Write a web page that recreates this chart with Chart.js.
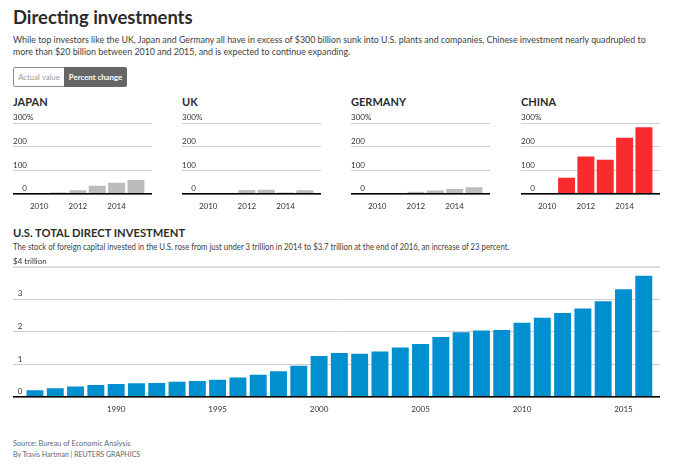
<!DOCTYPE html>
<html>
<head>
<meta charset="utf-8">
<title>Directing investments</title>
<script src="https://cdn.jsdelivr.net/npm/chart.js@4/dist/chart.umd.min.js"></script>
<style>
    html, body { margin: 0; padding: 0; background: #fff; overflow: hidden; }
    body { width: 700px; height: 465px; position: relative; font-family: Lato, sans-serif; color: #333; }
    .txt { position: absolute; white-space: nowrap; left: 13px; transform-origin: left top; }
    .title { top: 5px; font-size: 18.4px; line-height: 24px; font-weight: 700; color: #2b2b2b; }
    .intro { top: 32.6px; font-size: 10px; line-height: 12.8px; color: #404040; transform: scaleX(.885); }
    .country { top: 94px; font-size: 11px; line-height: 16px; font-weight: 700; color: #2b2b2b; }
    .head2 { top: 225px; font-size: 11.2px; line-height: 16px; font-weight: 700; color: #2b2b2b; }
    .sub { top: 240.5px; font-size: 8.6px; line-height: 13px; color: #404040; transform: scaleX(.904); }
    .foot { font-size: 7.3px; line-height: 11px; color: #666; }
    .toggle { position: absolute; left: 13px; top: 67px; width: 114px; height: 20px; border-radius: 2px; overflow: hidden; font-size: 7.8px; }
    .toggle span { position: absolute; top: 0; height: 18px; line-height: 18px; text-align: center; }
    .toggle .off { left: 0; width: 50px; border: 1px solid #8c8c8c; border-right: 0; color: #999; border-radius: 2px 0 0 2px; }
    .toggle .on { left: 51px; width: 63px; height: 20px; line-height: 20px; background: #666; color: #fff; font-weight: 700; }
    canvas { position: absolute; }
</style>
</head>
<body>
    <div class="txt title">Directing investments</div>
    <div class="txt intro">While top investors like the UK, Japan and Germany all have in excess of $300 billion sunk into U.S. plants and companies, Chinese investment nearly quadrupled to<br>more than $20 billion between 2010 and 2015, and is expected to continue expanding.</div>
    <div class="toggle"><span class="off">Actual value</span><span class="on">Percent change</span></div>

    <div class="txt country" style="left:13px">JAPAN</div>
    <div class="txt country" style="left:182px">UK</div>
    <div class="txt country" style="left:351px">GERMANY</div>
    <div class="txt country" style="left:521px">CHINA</div>

    <canvas id="japanChart" style="left:13px;top:108px;width:139px;height:107px"></canvas>
    <canvas id="ukChart" style="left:182px;top:108px;width:139px;height:107px"></canvas>
    <canvas id="germanyChart" style="left:351px;top:108px;width:139px;height:107px"></canvas>
    <canvas id="chinaChart" style="left:521px;top:108px;width:139px;height:107px"></canvas>

    <div class="txt head2">U.S. TOTAL DIRECT INVESTMENT</div>
    <div class="txt sub">The stock of foreign capital invested in the U.S. rose from just under 3 trillion in 2014 to $3.7 trillion at the end of 2016, an increase of 23 percent.</div>

    <canvas id="totalChart" style="left:13px;top:250px;width:647px;height:175px"></canvas>

    <div class="txt foot" style="top:437.5px">Source: Bureau of Economic Analysis</div>
    <div class="txt foot" style="top:448.5px;transform:scaleX(.96)">By Travis Hartman | REUTERS GRAPHICS</div>

<script>
const countryYears = [2010, 2011, 2012, 2013, 2014, 2015];
const japanChange = [0, 5, 14, 34, 46, 58];
const ukChange = [0, 3, 16, 17, 5, 14];
const germanyChange = [0, 1, 8, 13, 20, 27];
const chinaChange = [0, 68, 158, 144, 237, 282];
const countryYearTicks = [2010, 2012, 2014];
const changeTicks = [0, 100, 200, 300];
const changeTickLabels = ['\u2007\u20070', '100', '200', '300%'];

const totalYears = [1986, 1987, 1988, 1989, 1990, 1991, 1992, 1993, 1994, 1995, 1996,
    1997, 1998, 1999, 2000, 2001, 2002, 2003, 2004, 2005, 2006,
    2007, 2008, 2009, 2010, 2011, 2012, 2013, 2014, 2015, 2016];
const totalInvestment = [0.20, 0.255, 0.31, 0.36, 0.39, 0.41, 0.42, 0.46, 0.48, 0.52, 0.59,
    0.67, 0.78, 0.95, 1.25, 1.34, 1.32, 1.39, 1.51, 1.62, 1.83,
    1.98, 2.03, 2.05, 2.27, 2.42, 2.57, 2.71, 2.93, 3.30, 3.71];
const totalYearTicks = [1990, 1995, 2000, 2005, 2010, 2015];
const totalTicks = [0, 1, 2, 3, 4];
const totalTickLabels = ['\u20070', '\u20071', '\u20072', '\u20073', '$4 trillion'];

Chart.defaults.font.family = 'Lato, sans-serif';
Chart.defaults.animation = false;
Chart.defaults.responsive = false;

// 小图和大图共用一个配置
function drawBars(id, years, values, color, opts) {
    const canvas = document.getElementById(id);
    canvas.width = parseInt(canvas.style.width);
    canvas.height = parseInt(canvas.style.height);
    const yMax = opts.yTicks[opts.yTicks.length - 1];
    return new Chart(canvas, {
        type: 'bar',
        data: {
            labels: years,
            datasets: [{ data: values, backgroundColor: color, barThickness: 16.3 }]
        },
        options: {
            devicePixelRatio: 1,
            layout: { padding: { top: opts.top, left: 0, right: 0, bottom: 0 } },
            plugins: { legend: { display: false }, tooltip: { enabled: false } },
            scales: {
                x: {
                    type: 'linear',
                    offset: false,
                    min: opts.xMin,
                    max: opts.xMax,
                    afterBuildTicks: scale => { scale.ticks = opts.xTicks.map(v => ({ value: v })); },
                    afterFit: scale => { scale.height = opts.axisHeight; },
                    grid: { display: false },
                    border: { color: '#000', width: 1.5, z: 2 },
                    ticks: {
                        color: '#333',
                        font: { size: 8 },
                        maxRotation: 0,
                        autoSkip: false,
                        padding: 0,
                        callback: v => String(v)
                    }
                },
                y: {
                    min: 0,
                    max: yMax,
                    afterBuildTicks: scale => { scale.ticks = opts.yTicks.map(v => ({ value: v })); },
                    grid: {
                        // 大图最上面那条线粗一点
                        color: ctx => (opts.thickTop && ctx.tick.value === yMax) ? '#dcdcdc' : '#cfcfcf',
                        lineWidth: ctx => (opts.thickTop && ctx.tick.value === yMax) ? 2 : 1,
                        drawTicks: false
                    },
                    border: { display: false },
                    ticks: {
                        color: '#333',
                        font: { size: 8 },
                        mirror: true,
                        padding: 0,
                        labelOffset: -5.5,
                        callback: v => opts.yLabels[opts.yTicks.indexOf(v)]
                    }
                }
            }
        }
    });
}

const countryOpts = {
    top: 15.3, axisHeight: 21,
    xMin: 2008.646, xMax: 2015.83, xTicks: countryYearTicks,
    yTicks: changeTicks, yLabels: changeTickLabels
};
drawBars('japanChart', countryYears, japanChange, '#bcbcbe', countryOpts);
drawBars('ukChart', countryYears, ukChange, '#bcbcbe', countryOpts);
drawBars('germanyChart', countryYears, germanyChange, '#bcbcbe', countryOpts);
drawBars('chinaChart', countryYears, chinaChange, '#f92b2d', countryOpts);

drawBars('totalChart', totalYears, totalInvestment, '#0090d0', {
    top: 16.7, axisHeight: 28, thickTop: true,
    xMin: 1984.916, xMax: 2016.8, xTicks: totalYearTicks,
    yTicks: totalTicks, yLabels: totalTickLabels
});
</script>
</body>
</html>
